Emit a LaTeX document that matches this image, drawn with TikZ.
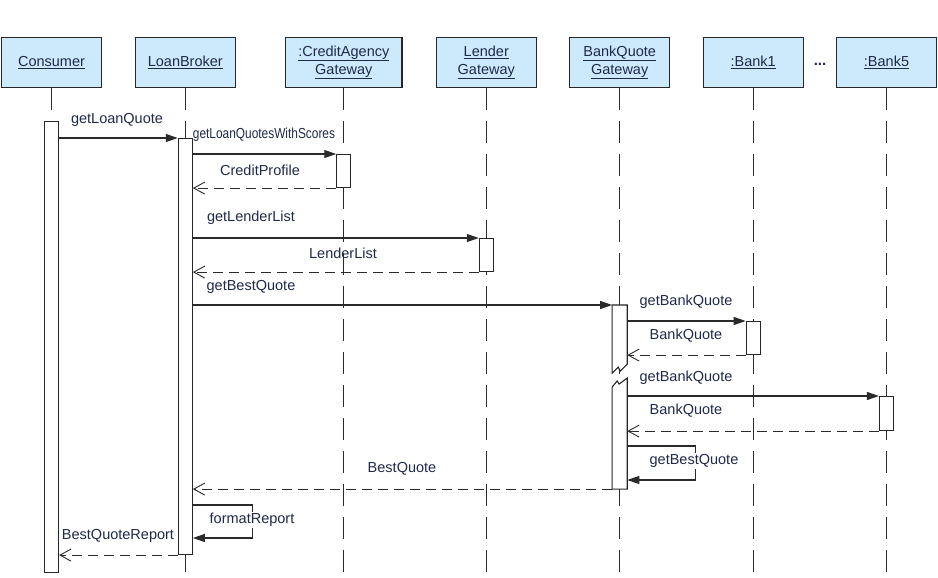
\documentclass[tikz,border=0pt]{standalone}
\usepackage{fontspec}
\setmainfont{Liberation Sans}
\usetikzlibrary{arrows.meta, positioning, calc}
\definecolor{objfill}{HTML}{CCEAFB}
\definecolor{objtext}{HTML}{1F2A4A}
\definecolor{lineclr}{HTML}{2A2A2A}

\begin{document}
\begin{tikzpicture}[x=1pt, y=-1pt,
  obj/.style={rectangle, draw=black!85, fill=objfill, line width=1.3pt,
    minimum width=100pt, minimum height=50pt, inner sep=2pt, align=center,
    text=objtext, font=\fontsize{14.5}{18}\selectfont},
  life/.style={draw=lineclr, line width=1.1pt, dash pattern=on 22pt off 11pt},
  act/.style={rectangle, draw=black!85, fill=white, line width=1.1pt,
    minimum width=14pt, inner sep=0pt, anchor=north},
  msg/.style={font=\fontsize{14.5}{17}\selectfont, text=objtext, inner sep=1pt},
  call/.style={draw=lineclr, line width=1.1pt, -{Triangle[length=12pt,width=8pt]}},
  reply/.style={draw=lineclr, line width=1.1pt, dash pattern=on 10pt off 6pt,
    -{Straight Barb[length=11pt,width=12pt,line width=0.9pt]}},
]
  \useasboundingbox (0,0) rectangle (938,578);

  % participants
  \node[obj] (consumer) at (51.5,62.5) {\underline{Consumer}};
  \node[obj, right=32.5pt of consumer] (broker) {\underline{LoanBroker}};
  \node[obj, minimum width=116.4pt, right=49pt of broker] (credit)
    {\underline{:CreditAgency}\\\underline{Gateway}};
  \node[obj, right=33pt of credit] (lender) {\underline{Lender}\\\underline{Gateway}};
  \node[obj, right=32.1pt of lender] (bqgw) {\underline{BankQuote}\\\underline{Gateway}};
  \node[obj, right=32.2pt of bqgw] (bank1) {\underline{:Bank1}};
  \node[obj, right=32pt of bank1] (bank5) {\underline{:Bank5}};
  \node[msg, font=\fontsize{15}{16}\selectfont\bfseries] (dots) at (820,64) {...};

  % lifelines
  \foreach \p in {consumer, broker, credit, lender, bqgw, bank1, bank5}
    \draw[life] (\p.south) -- (\p.south |- 0,578);

  % activations
  \node[act, minimum height=451pt] (aC) at (consumer.south |- 0,121) {};
  \node[act, minimum height=416pt] (aB) at (broker.south |- 0,138) {};
  \node[act, minimum height=33pt] (aCr) at (credit.south |- 0,154) {};
  \node[act, minimum height=33pt] (aL) at (lender.south |- 0,238) {};
  \node[act, minimum height=33pt] (aB1) at (bank1.south |- 0,321) {};
  \node[act, minimum height=34pt] (aB5) at (bank5.south |- 0,396) {};
  \node[act, draw=none, fill=none, minimum height=67pt] (aQa) at (bqgw.south |- 0,305) {};
  \node[act, draw=none, fill=none, minimum height=110pt] (aQb) at (bqgw.south |- 0,378) {};
  \filldraw[draw=black!85, fill=white, line width=1.1pt, line join=miter]
    (aQa.north west) -- (aQa.north east) -- ([yshift=9pt]aQa.south east)
    -- ([xshift=-7pt,yshift=2pt]aQa.south east) -- ([xshift=-9pt,yshift=6pt]aQa.south east)
    -- (aQa.south west) -- cycle;
  \filldraw[draw=black!85, fill=white, line width=1.1pt, line join=miter]
    (aQb.south west) -- ([yshift=-9pt]aQb.north west)
    -- ([xshift=5pt,yshift=-3pt]aQb.north west) -- ([xshift=7pt,yshift=-6pt]aQb.north west)
    -- (aQb.north east) -- (aQb.south east) -- cycle;

  % messages
  \draw[call] (aC.east |- aB.north) -- (aB.north west);
  \node[msg] (lLQ) at (117,120) {getLoanQuote};
  \node[msg] (lLQS) at (264,135) {\scalebox{0.82}[1]{getLoanQuotesWithScores}};

  \draw[call] (aB.east |- aCr.north) -- (aCr.north west);
  \draw[reply] (aCr.south west) -- (aB.east |- aCr.south);
  \node[msg] (lCP) at (260,170) {CreditProfile};

  \draw[call] (aB.east |- aL.north) -- (aL.north west);
  \node[msg] (lGLL) at (251,218) {getLenderList};
  \draw[reply] (aL.south west) -- (aB.east |- aL.south);
  \node[msg] (lLL) at (343,253) {LenderList};

  \draw[call] (aB.east |- aQa.north) -- (aQa.north west);
  \node[msg] (lGBQ) at (251,287) {getBestQuote};

  \draw[call] (aQa.east |- aB1.north) -- (aB1.north west);
  \node[msg] (lBQ1) at (686,302) {getBankQuote};
  \draw[reply] (aB1.south west) -- (aQa.east |- aB1.south);
  \node[msg] (lRQ1) at (686,336) {BankQuote};

  \draw[call] (aQb.east |- aB5.north) -- (aB5.north west);
  \node[msg] (lBQ5) at (686,378) {getBankQuote};
  \draw[reply] (aB5.south west) -- (aQb.east |- aB5.south);
  \node[msg] (lRQ5) at (686,411) {BankQuote};

  \draw[call] (aQb.east |- 0,446) -- ++(68,0) |- (aQb.east |- 0,480);
  \node[msg, fill=white] (lSelf) at (694,461) {getBestQuote};

  \draw[reply] (aQb.south west) -- (aB.east |- aQb.south);
  \node[msg] (lBest) at (402,469) {BestQuote};

  \draw[call] (aB.east |- 0,505) -- ++(60,0) |- (aB.east |- 0,538);
  \node[msg, fill=white] (lFmt) at (252,520) {formatReport};

  \draw[reply] (aB.south west) -- (aC.east |- aB.south);
  \node[msg] (lRep) at (118,536) {BestQuoteReport};
\end{tikzpicture}
\end{document}
